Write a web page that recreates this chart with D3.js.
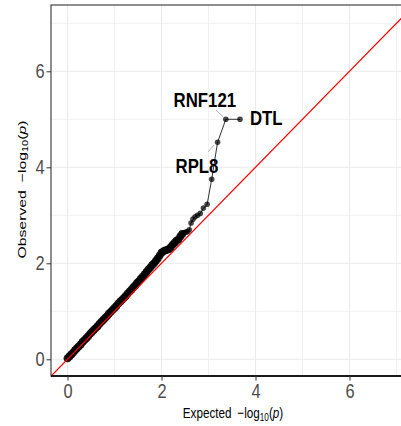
<!DOCTYPE html>
<html>
<head>
<meta charset="utf-8">
<script src="https://cdn.jsdelivr.net/npm/d3@7/dist/d3.min.js"></script>
<style>
  html, body { margin: 0; padding: 0; background: #fff; }
  svg { display: block; }
</style>
</head>
<body>
<div id="chart"></div>
<script>
// Expected vs observed -log10(p), sorted by expected value
const expectedP = [
  0.00, 0.04, 0.08, 0.12, 0.16, 0.20, 0.24, 0.28, 0.32, 0.36,
  0.40, 0.44, 0.48, 0.52, 0.56, 0.60, 0.64, 0.68, 0.72, 0.76,
  0.80, 0.84, 0.88, 0.92, 0.96, 1.00, 1.04, 1.08, 1.12, 1.16,
  1.20, 1.24, 1.28, 1.32, 1.36, 1.40, 1.44, 1.48, 1.52, 1.56,
  1.60, 1.64, 1.68, 1.72, 1.76, 1.80, 1.84, 1.88, 1.92, 1.96,
  2.00, 2.04, 2.08, 2.12, 2.16, 2.20, 2.24, 2.28, 2.32, 2.36,
  2.40, 2.44, 2.466, 2.494, 2.524, 2.556, 2.591, 2.629, 2.670, 2.716,
  2.767, 2.825, 2.892, 2.971, 3.068, 3.193, 3.369, 3.670
];
const observedP = [
  0.02, 0.06, 0.10, 0.14, 0.19, 0.23, 0.27, 0.31, 0.36, 0.40,
  0.44, 0.48, 0.53, 0.57, 0.61, 0.65, 0.69, 0.74, 0.78, 0.82,
  0.86, 0.90, 0.95, 0.99, 1.03, 1.07, 1.11, 1.16, 1.20, 1.24,
  1.28, 1.32, 1.37, 1.41, 1.45, 1.50, 1.54, 1.59, 1.63, 1.68,
  1.72, 1.77, 1.82, 1.87, 1.91, 1.96, 2.00, 2.05, 2.10, 2.16,
  2.22, 2.25, 2.27, 2.28, 2.30, 2.34, 2.39, 2.43, 2.47, 2.50,
  2.56, 2.61, 2.63, 2.64, 2.65, 2.66, 2.70, 2.84, 2.92, 2.97,
  3.00, 3.04, 3.15, 3.23, 3.75, 4.52, 5.00, 5.00
];

// Labelled genes: name and index into the series above
const geneNames = ["DTL", "RNF121", "RPL8"];
const geneIndex = [77, 76, 75];

const majorTicks = [0, 2, 4, 6];
const minorTicks = [1, 3, 5, 7];

const W = 401, H = 426;
const panel = { left: 51, right: 415, top: 5, bottom: 376 };
const narrow = 0.8;   // horizontal squeeze giving a condensed face
const font = "'Liberation Sans', Arial, sans-serif";

const x = d3.scaleLinear().domain([0, 6]).range([67.5, 349.5]);
const y = d3.scaleLinear().domain([0, 6]).range([359.3, 71.3]);

const svg = d3.select("#chart").append("svg")
  .attr("width", W).attr("height", H);

svg.append("defs").append("clipPath").attr("id", "clip")
  .append("rect")
  .attr("x", panel.left).attr("y", panel.top)
  .attr("width", panel.right - panel.left)
  .attr("height", panel.bottom - panel.top);

// grid
const grid = svg.append("g").attr("clip-path", "url(#clip)");
grid.selectAll("line.vmin").data(minorTicks).join("line")
  .attr("x1", d => x(d)).attr("x2", d => x(d))
  .attr("y1", panel.top).attr("y2", panel.bottom)
  .attr("stroke", "#ececec").attr("stroke-width", 0.8);
grid.selectAll("line.hmin").data(minorTicks).join("line")
  .attr("y1", d => y(d)).attr("y2", d => y(d))
  .attr("x1", panel.left).attr("x2", panel.right)
  .attr("stroke", "#ececec").attr("stroke-width", 0.8);
grid.selectAll("line.vmaj").data(majorTicks).join("line")
  .attr("x1", d => x(d)).attr("x2", d => x(d))
  .attr("y1", panel.top).attr("y2", panel.bottom)
  .attr("stroke", "#ebebeb").attr("stroke-width", 1.1);
grid.selectAll("line.hmaj").data(majorTicks).join("line")
  .attr("y1", d => y(d)).attr("y2", d => y(d))
  .attr("x1", panel.left).attr("x2", panel.right)
  .attr("stroke", "#ebebeb").attr("stroke-width", 1.1);

const pts = expectedP.map((e, i) => ({ e, o: observedP[i], dense: e < 2.45 }));

const plot = svg.append("g").attr("clip-path", "url(#clip)");

// connecting line
plot.append("path")
  .datum(pts)
  .attr("d", d3.line().x(d => x(d.e)).y(d => y(d.o)))
  .attr("fill", "none")
  .attr("stroke", "#333")
  .attr("stroke-width", 1);

// points: the dense body of the distribution reads as a solid band
plot.selectAll("circle").data(pts).join("circle")
  .attr("cx", d => x(d.e)).attr("cy", d => y(d.o))
  .attr("r", d => d.dense ? 3.9 : 2.8)
  .attr("fill", "#000")
  .attr("fill-opacity", d => d.dense ? 0.9 : 0.72);

// identity reference line
const lo = x.invert(panel.left) - 0.1, hi = x.invert(panel.right) + 0.1;
plot.append("line")
  .attr("x1", x(lo)).attr("y1", y(lo))
  .attr("x2", x(hi)).attr("y2", y(hi))
  .attr("stroke", "#ff0000").attr("stroke-width", 1.2);

// gene labels with leader segments (pixel offsets from the point)
const labelStyle = [
  { dx: 26.3, dy: 5.7, seg: null },
  { dx: -21, dy: -12.6, seg: [-10, -9.3, -2.7, -2.6] },
  { dx: -20.6, dy: 30.4, seg: [-9.3, 9.4, -3.6, 2.7] }
];
geneNames.forEach((name, k) => {
  const p = pts[geneIndex[k]];
  const px = x(p.e), py = y(p.o);
  const st = labelStyle[k];
  if (st.seg) {
    svg.append("line")
      .attr("x1", px + st.seg[0]).attr("y1", py + st.seg[1])
      .attr("x2", px + st.seg[2]).attr("y2", py + st.seg[3])
      .attr("stroke", "#999").attr("stroke-width", 0.8);
  }
  svg.append("text")
    .attr("transform", `translate(${px + st.dx},${py + st.dy}) scale(${narrow},1)`)
    .attr("text-anchor", "middle")
    .attr("font-family", font)
    .attr("font-weight", "bold")
    .attr("font-size", 21)
    .attr("fill", "#000")
    .text(name);
});

// panel border and axis line
svg.append("rect")
  .attr("x", panel.left).attr("y", panel.top)
  .attr("width", panel.right - panel.left)
  .attr("height", panel.bottom - panel.top)
  .attr("fill", "none").attr("stroke", "#333").attr("stroke-width", 1.1);
svg.append("line")
  .attr("x1", panel.left).attr("x2", panel.right)
  .attr("y1", panel.bottom).attr("y2", panel.bottom)
  .attr("stroke", "#1a1a1a").attr("stroke-width", 1.8);

// axes
const xAxis = svg.append("g")
  .attr("transform", `translate(0,${panel.bottom})`)
  .call(d3.axisBottom(x).tickValues(majorTicks).tickSize(4.5).tickPadding(3).tickFormat(d3.format("d")));
const yAxis = svg.append("g")
  .attr("transform", `translate(${panel.left},0)`)
  .call(d3.axisLeft(y).tickValues(majorTicks).tickSize(4.5).tickPadding(2).tickFormat(d3.format("d")));
[xAxis, yAxis].forEach(g => {
  g.select(".domain").remove();
  g.selectAll(".tick line").attr("stroke", "#333").attr("stroke-width", 1);
  g.selectAll(".tick text")
    .attr("font-family", font)
    .attr("font-size", 20.5)
    .attr("fill", "#4d4d4d");
});
xAxis.selectAll(".tick text").attr("transform", `scale(${narrow},1)`);
yAxis.selectAll(".tick text")
  .attr("x", -6.5 / narrow)
  .attr("transform", `scale(${narrow},1)`);

// axis titles
function titleText(sel, word, size) {
  sel.attr("font-family", font).attr("font-size", size).attr("fill", "#000");
  sel.append("tspan").text(word + "\u2002\u2212log");
  sel.append("tspan").attr("font-size", size * 0.7).attr("dy", size * 0.22).text("10");
  sel.append("tspan").attr("dy", -size * 0.22).text("(");
  sel.append("tspan").attr("font-style", "italic").text("p");
  sel.append("tspan").text(")");
}
const xt = svg.append("text")
  .attr("transform", `translate(233,417.5) scale(0.78,1)`)
  .attr("text-anchor", "middle");
titleText(xt, "Expected", 15);

const yt = svg.append("text")
  .attr("transform", `translate(25.5,189.5) scale(0.74,1) rotate(-90)`)
  .attr("text-anchor", "middle");
titleText(yt, "Observed", 15.8);
</script>
</body>
</html>
